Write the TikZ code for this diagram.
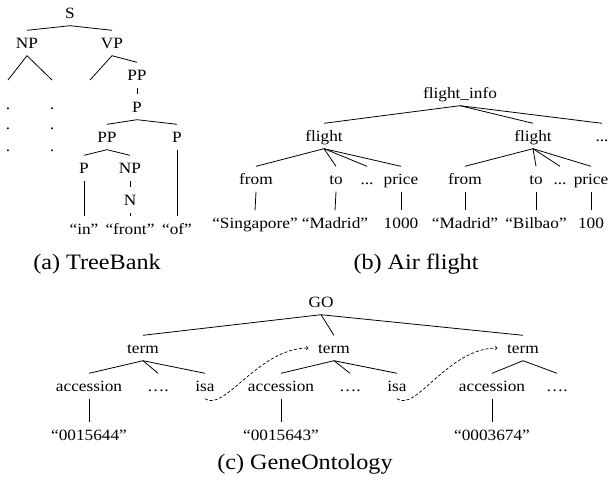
\documentclass[tikz,border=0pt]{standalone}
\usepackage{fontspec}
\setmainfont{Liberation Serif}[FakeStretch=1.1]
\tikzset{
  lbl/.style={font=\fontsize{15.7}{18}\selectfont, inner xsep=1.5pt, inner ysep=3pt, text height=14.5pt, text depth=4.5pt},
  dotn/.style={font=\fontsize{15.7}{18}\selectfont, inner sep=0pt, anchor=base},
  captext/.style={font=\fontsize{22}{26}\selectfont, inner sep=0pt, anchor=base},
  edge/.style={line width=0.8pt},
  isaarrow/.style={line width=0.7pt, dash pattern=on 3pt off 2pt, ->, shorten >=8pt}
}
\begin{document}
\begin{tikzpicture}[x=1pt,y=-1pt]
\useasboundingbox (0,0) rectangle (610,480);
% ---------------- (a) TreeBank
\node[lbl] (S) at (70,13) {S};
\node[lbl] (NP) at (27,43) {NP};
\node[lbl] (VP) at (112,43) {VP};
\node[lbl] (PPa) at (137,75) {PP};
\node[lbl] (Pa) at (137,107) {P};
\node[lbl] (PPb) at (107,137) {PP};
\node[lbl] (Pb) at (177,137) {P};
\node[lbl] (Pc) at (84,168) {P};
\node[lbl] (NPb) at (130,168) {NP};
\node[lbl] (N) at (130,200) {N};
\node[lbl] (in) at (84,229) {“in”};
\node[lbl] (front) at (130,229) {“front”};
\node[lbl] (of) at (177,229) {“of”};
\coordinate (c1) at (8,80);
\coordinate (c2) at (52,80);
\coordinate (c3) at (90,80);
\node[dotn] (d1) at (8,109) {.};
\node[dotn] (d2) at (8,129) {.};
\node[dotn] (d3) at (8,151) {.};
\node[dotn] (d4) at (52,109) {.};
\node[dotn] (d5) at (52,129) {.};
\node[dotn] (d6) at (52,151) {.};
\draw[edge] (NP.north) -- (S.south) -- (VP.north);
\draw[edge] (c1) -- (NP.south) -- (c2);
\draw[edge] (c3) -- (VP.south) -- (PPa.north);
\draw[edge] (PPa.south) -- (Pa.north);
\draw[edge] (PPb.north) -- (Pa.south) -- (Pb.north);
\draw[edge] (Pc.north) -- (PPb.south) -- (NPb.north);
\draw[edge] (Pc.south) -- (in.north);
\draw[edge] (NPb.south) -- (N.north);
\draw[edge] (N.south) -- (front.north);
\draw[edge] (Pb.south) -- (of.north);
\node[captext] (capa) at (97,269) {(a) TreeBank};
% ---------------- (b) Air flight
\node[lbl] (fi) at (460,93) {flight\_info};
\node[lbl] (fa) at (324,136) {flight};
\node[lbl] (fb) at (533,136) {flight};
\node[lbl] (fd) at (602,136) {...};
\node[lbl] (froma) at (256,179) {from};
\node[lbl] (toa) at (336,179) {to};
\node[lbl] (dda) at (367,179) {...};
\node[lbl] (pricea) at (401,179) {price};
\node[lbl] (sing) at (255,223) {“Singapore”};
\node[lbl] (mada) at (335,223) {“Madrid”};
\node[lbl] (thou) at (401,223) {1000};
\node[lbl] (fromb) at (465,179) {from};
\node[lbl] (tob) at (536,179) {to};
\node[lbl] (ddb) at (560,179) {...};
\node[lbl] (priceb) at (591,179) {price};
\node[lbl] (madb) at (465,223) {“Madrid”};
\node[lbl] (bil) at (536,223) {“Bilbao”};
\node[lbl] (hun) at (591,223) {100};
\draw[edge] (fi.south) -- (fa.north);
\draw[edge] (fi.south) -- (fb.north);
\draw[edge] (fi.south) -- (fd.north);
\draw[edge] (fa.south) -- (froma.north);
\draw[edge] (fa.south) -- (toa.north);
\draw[edge] (fa.south) -- (dda.north);
\draw[edge] (fa.south) -- (pricea.north);
\draw[edge] (froma.south) -- (sing.north);
\draw[edge] (toa.south) -- (mada.north);
\draw[edge] (pricea.south) -- (thou.north);
\draw[edge] (fb.south) -- (fromb.north);
\draw[edge] (fb.south) -- (tob.north);
\draw[edge] (fb.south) -- (ddb.north);
\draw[edge] (fb.south) -- (priceb.north);
\draw[edge] (fromb.south) -- (madb.north);
\draw[edge] (tob.south) -- (bil.north);
\draw[edge] (priceb.south) -- (hun.north);
\node[captext] (capb) at (416,269) {(b) Air flight};
% ---------------- (c) GeneOntology
\node[lbl] (GO) at (321,302) {GO};
\node[lbl] (ta) at (143,348) {term};
\node[lbl] (tb) at (334,348) {term};
\node[lbl] (tc) at (523,348) {term};
\node[lbl] (acca) at (89,386) {accession};
\node[lbl] (ela) at (158,386) {….};
\node[lbl] (isaa) at (205,386) {isa};
\node[lbl] (accb) at (281,386) {accession};
\node[lbl] (elb) at (350,386) {….};
\node[lbl] (isab) at (397,386) {isa};
\node[lbl] (accc) at (492,386) {accession};
\node[lbl] (elc) at (557,386) {….};
\node[lbl] (la) at (89,435) {“0015644”};
\node[lbl] (lb) at (281,435) {“0015643”};
\node[lbl] (lc) at (492,435) {“0003674”};
\draw[edge] (GO.south) -- (ta.north);
\draw[edge] (GO.south) -- (tb.north);
\draw[edge] (GO.south) -- (tc.north);
\draw[edge] (ta.south) -- (acca.north);
\draw[edge] (ta.south) -- (ela.north);
\draw[edge] (ta.south) -- (isaa.north);
\draw[edge] (tb.south) -- (accb.north);
\draw[edge] (tb.south) -- (elb.north);
\draw[edge] (tb.south) -- (isab.north);
\draw[edge] (tc.south) -- (accc.north);
\draw[edge] (tc.south) -- (elc.north);
\draw[edge] (acca.south) -- (la.north);
\draw[edge] (accb.south) -- (lb.north);
\draw[edge] (accc.south) -- (lc.north);
\draw[isaarrow] (isaa.south) .. controls +(19,14) and +(-58,0) .. (tb.west);
\draw[isaarrow] (isab.south) .. controls +(19,14) and +(-58,0) .. (tc.west);
\node[captext] (capc) at (305,469) {(c) GeneOntology};
\end{tikzpicture}
\end{document}
